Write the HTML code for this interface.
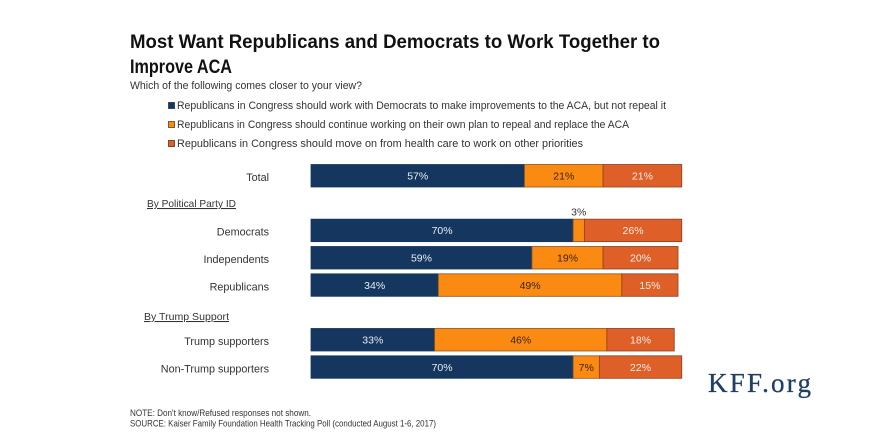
<!DOCTYPE html>
<html lang="en">
<head>
<meta charset="utf-8">
<title>Most Want Republicans and Democrats to Work Together to Improve ACA</title>
<style>
html,body{margin:0;padding:0;background:#fff;}
svg{display:block;font-family:"Liberation Sans",sans-serif;}
</style>
</head>
<body>
<svg id="chart" xmlns="http://www.w3.org/2000/svg" width="877" height="438" viewBox="0 0 877 438">
  <rect x="0" y="0" width="877" height="438" fill="#ffffff"/>
  <text x="130" y="48" font-size="19.5" font-weight="700" fill="#111111" textLength="530" lengthAdjust="spacingAndGlyphs">Most Want Republicans and Democrats to Work Together to</text>
  <text x="130" y="73" font-size="19.5" font-weight="700" fill="#111111" textLength="102" lengthAdjust="spacingAndGlyphs">Improve ACA</text>
  <text x="130" y="89" font-size="11" fill="#333333" textLength="232" lengthAdjust="spacingAndGlyphs">Which of the following comes closer to your view?</text>

  <g font-size="11" fill="#333333">
    <g>
      <rect x="168.5" y="102.5" width="6" height="6" fill="#15375f" stroke="#3a4a5c" stroke-width="1"/>
      <text x="177" y="109" textLength="489" lengthAdjust="spacingAndGlyphs">Republicans in Congress should work with Democrats to make improvements to the ACA, but not repeal it</text>
    </g>
    <g>
      <rect x="168.5" y="121.5" width="6" height="6" fill="#fb8a12" stroke="#7a5a30" stroke-width="1"/>
      <text x="177" y="128" textLength="452" lengthAdjust="spacingAndGlyphs">Republicans in Congress should continue working on their own plan to repeal and replace the ACA</text>
    </g>
    <g>
      <rect x="168.5" y="140.5" width="6" height="6" fill="#df5f28" stroke="#7a4a30" stroke-width="1"/>
      <text x="177" y="147" textLength="406" lengthAdjust="spacingAndGlyphs">Republicans in Congress should move on from health care to work on other priorities</text>
    </g>
  </g>

  <text x="147" y="207" font-size="10.5" fill="#333333" text-decoration="underline" textLength="89" lengthAdjust="spacingAndGlyphs">By Political Party ID</text>
  <text x="144" y="320" font-size="10.5" fill="#333333" text-decoration="underline" textLength="85" lengthAdjust="spacingAndGlyphs">By Trump Support</text>

  <g id="bars"></g>

  <text x="130" y="416" font-size="9.4" fill="#333333" textLength="181" lengthAdjust="spacingAndGlyphs">NOTE: Don't know/Refused responses not shown.</text>
  <text x="130" y="426.5" font-size="9.4" fill="#333333" textLength="306" lengthAdjust="spacingAndGlyphs">SOURCE: Kaiser Family Foundation Health Tracking Poll (conducted August 1-6, 2017)</text>
  <text x="708" y="392" font-family="'Liberation Serif',serif" font-size="27" fill="#1f3f63" stroke="#1f3f63" stroke-width="0.3" textLength="103" lengthAdjust="spacing">KFF.org</text>
</svg>
<script>
var categories = ["Total", "Democrats", "Independents", "Republicans", "Trump supporters", "Non-Trump supporters"];
var groupSizes = [1, 3, 2];
var workWithDemocrats = [57, 70, 59, 34, 33, 70];
var ownPlan = [21, 3, 19, 49, 46, 7];
var moveOn = [21, 26, 20, 15, 18, 22];

var SVG_NS = "http://www.w3.org/2000/svg";
var barsLayer = document.getElementById("bars");
var PLOT_LEFT = 311;
var PX_PER_PERCENT = 3.745;
var FIRST_TOP = 164;
var ROW_PITCH = 27.33;
var BAR_HEIGHT = 23;

function xScale(percent) {
  return PLOT_LEFT + percent * PX_PER_PERCENT;
}

function rowTop(index) {
  var slot = 0, seen = 0;
  for (var g = 0; g < groupSizes.length; g++) {
    if (index < seen + groupSizes[g]) {
      slot += index - seen;
      break;
    }
    seen += groupSizes[g];
    slot += groupSizes[g] + 1;
  }
  return FIRST_TOP + slot * ROW_PITCH;
}

function slug(text) {
  return text.toLowerCase().replace(/[^a-z]+/g, "-");
}

function drawSegment(rowIndex, start, value, fill, stroke, textFill, seriesName) {
  var top = rowTop(rowIndex);
  var rect = document.createElementNS(SVG_NS, "rect");
  rect.setAttribute("x", xScale(start));
  rect.setAttribute("y", top + 0.5);
  rect.setAttribute("width", value * PX_PER_PERCENT);
  rect.setAttribute("height", BAR_HEIGHT - 0.5);
  rect.setAttribute("fill", fill);
  rect.setAttribute("stroke", stroke);
  rect.setAttribute("stroke-width", "0.8");
  
  
  barsLayer.appendChild(rect);

  var label = document.createElementNS(SVG_NS, "text");
  var centre = xScale(start + value / 2);
  var small = value < 5;
  label.setAttribute("x", centre);
  label.setAttribute("y", small ? top - 3 : top + BAR_HEIGHT / 2 + 4);
  label.setAttribute("text-anchor", "middle");
  label.setAttribute("font-size", "10.5");
  label.setAttribute("fill", small ? "#333333" : textFill);
  
  
  label.textContent = value + "%";
  barsLayer.appendChild(label);
}

categories.forEach(function (name, i) {
  var cat = document.createElementNS(SVG_NS, "text");
  cat.setAttribute("x", 269);
  cat.setAttribute("y", rowTop(i) + BAR_HEIGHT / 2 + 5.5);
  cat.setAttribute("text-anchor", "end");
  cat.setAttribute("font-size", "10.8");
  cat.setAttribute("fill", "#333333");
  
  
  cat.textContent = name;
  barsLayer.appendChild(cat);

  drawSegment(i, 0, workWithDemocrats[i], "#15375f", "#15375f", "#e8edf3", "work-with-democrats");
  drawSegment(i, workWithDemocrats[i], ownPlan[i], "#fb8a12", "#8a5520", "#3a2408", "own-plan");
  drawSegment(i, workWithDemocrats[i] + ownPlan[i], moveOn[i], "#df5f28", "#8a4020", "#fbeee6", "move-on");
});
</script>
</body>
</html>
